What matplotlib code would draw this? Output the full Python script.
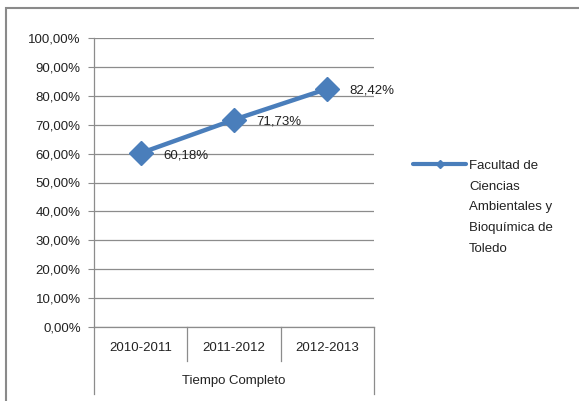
#!/usr/bin/env python3
"""Line chart: Facultad de Ciencias Ambientales y Bioquímica de Toledo, tiempo completo."""
import matplotlib
matplotlib.use("Agg")
import matplotlib.pyplot as plt
from matplotlib.lines import Line2D
from matplotlib.patches import Rectangle
import matplotlib.transforms as mtransforms

years = ["2010-2011", "2011-2012", "2012-2013"]
values = [60.18, 71.73, 82.42]
group_label = "Tiempo Completo"
series_name = "Facultad de\nCiencias\nAmbientales y\nBioquímica de\nToledo"
yticks = list(range(0, 101, 10))

plt.rcParams["font.family"] = ["Liberation Sans", "DejaVu Sans"]
GRID = "#8c8c8c"
BLUE = "#4a7ebb"
TXT = "#222222"
FS = 9.5

fig = plt.figure(figsize=(5.79, 4.01), dpi=100)
W, H = 579, 401

# outer chart border
fig.add_artist(Rectangle((6 / W, -0.05), 1.1, 1 - 8 / H + 0.05, transform=fig.transFigure,
                         fill=False, edgecolor="#8a8a8a", linewidth=1.5))

ax = fig.add_axes([94 / W, 1 - 327 / H, (374 - 94) / W, (327 - 38) / H])
x = list(range(len(years)))
ax.plot(x, values, color=BLUE, linewidth=3.2, marker="D", markersize=12,
        markerfacecolor=BLUE, markeredgecolor=BLUE, zorder=3, clip_on=False)
for xi, v in zip(x, values):
    ax.annotate(f"{v:.2f}%".replace(".", ","), (xi, v), xytext=(16, -1.5),
                textcoords="offset points", fontsize=FS, color=TXT, va="center", ha="left")

ax.set_xlim(-0.5, len(years) - 0.5)
ax.set_ylim(0, 100)
ax.set_yticks(yticks)
ax.set_yticklabels([f"{t},00%" for t in yticks], fontsize=FS, color=TXT)
ax.tick_params(axis="y", length=4.5, color=GRID, pad=5)
ax.set_xticks([])
ax.grid(axis="y", color=GRID, linewidth=0.9)
ax.set_axisbelow(True)
for s in ("top", "right"):
    ax.spines[s].set_visible(False)
for s in ("left", "bottom"):
    ax.spines[s].set_color(GRID)
    ax.spines[s].set_linewidth(0.9)

# category axis with group label
trans = mtransforms.blended_transform_factory(ax.transData, ax.transAxes)
span = 327 - 38
for i in range(len(years) + 1):
    xs = i - 0.5
    low = -(394 - 327) / span if i in (0, len(years)) else -(361 - 327) / span
    ax.plot([xs, xs], [0, low], color=GRID, linewidth=0.9, transform=trans, clip_on=False)
for xi, yr in zip(x, years):
    ax.text(xi, -(348 - 327) / span, yr, transform=trans, ha="center", va="center",
            fontsize=FS, color=TXT)
ax.text((len(years) - 1) / 2, -(381 - 327) / span, group_label, transform=trans,
        ha="center", va="center", fontsize=FS, color=TXT)

# legend
fig.add_artist(Line2D([413 / W, 466 / W], [1 - 164 / H] * 2, transform=fig.transFigure,
                      color=BLUE, linewidth=3, solid_capstyle="round"))
fig.add_artist(Line2D([440 / W], [1 - 164 / H], transform=fig.transFigure,
                      color=BLUE, marker="D", markersize=4, linestyle="none"))
fig.text(469 / W, 1 - 160 / H, series_name, ha="left", va="top", fontsize=FS,
         color=TXT, linespacing=1.97)

fig.savefig("out.png", dpi=100)
